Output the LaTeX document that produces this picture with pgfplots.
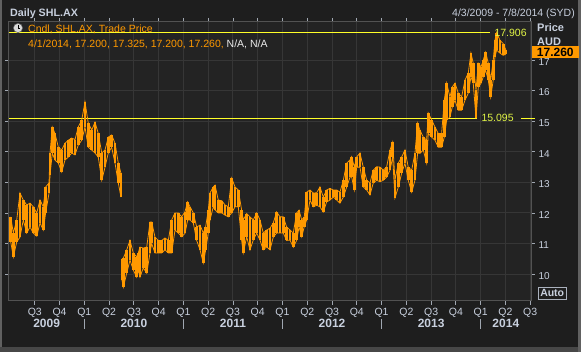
\documentclass[border=0pt]{standalone}
\usepackage{pgfplots}
\pgfplotsset{compat=1.18}
\usepackage{pgfplotstable}
\usepackage{fontspec}
\setmainfont{Liberation Sans}

\definecolor{bgout}{RGB}{30,30,30}
\definecolor{bgplot}{RGB}{35,35,35}
\definecolor{gridc}{RGB}{54,54,54}
\definecolor{framec}{RGB}{82,82,82}
\definecolor{candle}{RGB}{255,153,0}
\definecolor{txt}{RGB}{200,208,222}
\definecolor{yline}{RGB}{255,255,40}
\definecolor{ytext}{RGB}{225,245,70}

% daily candles before the April 2010 gap
\pgfplotstableread{
x lo hi
2009.257 11.06 11.87
2009.284 10.56 11.34
2009.318 11.05 11.77
2009.351 11.21 12.65
2009.384 11.77 12.42
2009.419 11.34 12.26
2009.452 11.54 12.32
2009.485 11.34 12.20
2009.520 11.24 12.00
2009.553 11.67 12.42
2009.586 11.44 12.20
2009.610 12.00 12.85
2009.644 12.65 12.98
2009.654 13.24 13.96
2009.677 13.96 14.81
2009.704 13.73 14.60
2009.738 13.63 14.15
2009.772 13.34 14.06
2009.805 13.73 14.28
2009.839 13.83 14.38
2009.873 13.96 14.45
2009.906 13.90 14.40
2009.939 14.22 14.81
2009.974 14.38 15.04
2010.007 14.81 15.63
2010.040 14.15 14.94
2010.075 14.06 14.71
2010.108 13.96 14.97
2010.141 13.83 14.60
2010.176 13.07 13.96
2010.209 13.50 14.06
2010.242 13.96 14.48
2010.276 14.15 14.55
2010.310 13.63 14.28
2010.343 12.98 13.63
2010.370 12.52 13.30
}\candlesA

% candles after the gap
\pgfplotstableread{
x lo hi
2010.380 9.80 10.50
2010.394 9.57 10.52
2010.428 10.03 10.79
2010.461 10.46 11.10
2010.494 10.13 10.69
2010.529 9.90 10.56
2010.545 10.13 10.69
2010.562 9.90 10.88
2010.595 10.20 10.85
2010.630 10.03 10.88
2010.663 10.69 11.70
2010.680 11.00 11.70
2010.713 10.69 11.21
2010.747 10.69 11.10
2010.781 10.69 11.10
2010.814 10.79 11.18
2010.848 10.69 11.10
2010.882 10.69 11.77
2010.915 11.44 12.00
2010.949 11.34 12.00
2010.983 11.22 11.87
2011.016 11.33 12.04
2011.043 11.77 12.36
2011.067 11.77 12.20
2011.100 11.67 12.00
2011.134 11.10 11.54
2011.168 10.79 11.60
2011.201 10.36 11.34
2011.225 10.79 11.55
2011.251 11.34 12.09
2011.268 11.77 12.65
2011.302 12.20 12.85
2011.319 12.10 12.91
2011.352 12.00 12.42
2011.387 12.00 12.40
2011.420 11.93 12.26
2011.453 11.87 12.20
2011.487 12.00 13.14
2011.521 12.20 12.85
2011.554 12.20 12.75
2011.588 11.10 12.09
2011.604 10.69 11.77
2011.639 11.22 11.98
2011.672 10.79 11.87
2011.705 11.11 11.77
2011.740 11.34 12.00
2011.773 11.11 11.77
2011.806 10.79 11.34
2011.841 10.89 11.44
2011.874 10.79 11.50
2011.907 11.21 11.67
2011.941 11.34 12.03
2011.975 11.34 11.87
2012.008 11.34 11.87
2012.042 11.10 11.54
2012.076 11.11 11.44
2012.109 10.88 11.34
2012.143 11.10 12.00
2012.167 11.54 12.09
2012.194 11.22 11.77
2012.220 11.55 11.87
2012.244 11.77 12.68
2012.278 12.42 12.75
2012.311 12.20 12.65
2012.345 12.25 12.66
2012.378 12.20 12.85
2012.412 12.03 12.52
2012.446 12.36 12.75
2012.479 12.42 12.80
2012.513 12.52 12.75
2012.547 12.42 12.75
2012.580 12.32 12.68
2012.614 12.52 13.07
2012.648 12.85 13.63
2012.681 13.17 13.73
2012.698 13.18 13.84
2012.725 12.75 13.50
2012.749 13.50 13.83
2012.782 13.50 13.96
2012.815 12.85 13.50
2012.850 12.75 13.07
2012.883 12.59 12.98
2012.916 12.98 13.40
2012.951 13.07 13.51
2012.984 13.02 13.50
2013.017 13.07 13.40
2013.051 13.17 13.50
2013.085 13.40 14.06
2013.112 13.83 14.32
2013.135 12.49 13.07
2013.169 12.85 13.63
2013.203 13.30 13.83
2013.236 13.63 14.06
2013.269 13.07 13.50
2013.304 12.68 13.40
2013.337 13.07 13.96
2013.364 13.96 14.94
2013.387 13.95 14.71
2013.421 14.06 14.48
2013.455 13.63 14.38
2013.471 14.60 15.27
2013.506 14.48 15.04
2013.539 14.38 14.81
2013.572 14.15 14.60
2013.606 14.15 14.60
2013.633 14.48 15.69
2013.657 15.04 16.25
2013.690 15.14 15.79
2013.713 15.46 16.12
2013.741 15.69 16.25
2013.774 15.36 15.92
2013.808 15.36 15.80
2013.842 15.69 16.35
2013.875 15.92 16.58
2013.902 16.45 17.23
2013.925 16.25 16.90
2013.953 15.095 16.02
2013.976 16.12 16.90
2014.003 16.24 16.78
2014.026 16.45 17.00
2014.050 16.67 17.26
2014.077 16.35 16.90
2014.101 15.79 16.35
2014.127 16.35 17.00
2014.144 17.10 17.65
2014.161 17.33 17.906
2014.195 17.23 17.65
2014.228 17.16 17.54
2014.255 17.20 17.325
}\candlesB

\begin{document}
\begin{tikzpicture}[font=\fontsize{10.5}{12}\selectfont]
\useasboundingbox (-9pt,-51pt) rectangle (572pt,301pt);
\fill[bgout] (-9pt,-51pt) rectangle (572pt,301pt);
\fill[black!62] (-9pt,-51pt) rectangle (-6.5pt,301pt);
\fill[black!72] (-9pt,-51pt) rectangle (572pt,-46pt);
\fill[black!62] (569pt,-51pt) rectangle (572pt,301pt);
\begin{axis}[
  at={(0,0)}, anchor=south west,
  scale only axis, width=522pt, height=279pt,
  xmin=2009.240, xmax=2014.508, ymin=9.117, ymax=18.25,
  clip=false,
  axis background/.style={fill=bgplot},
  axis line style={framec, line width=1pt},
  xtick={2009.5,2009.75,2010,2010.25,2010.5,2010.75,2011,2011.25,2011.5,2011.75,2012,2012.25,2012.5,2012.75,2013,2013.25,2013.5,2013.75,2014,2014.25,2014.5},
  xticklabels={Q3,Q4,Q1,Q2,Q3,Q4,Q1,Q2,Q3,Q4,Q1,Q2,Q3,Q4,Q1,Q2,Q3,Q4,Q1,Q2,Q3},
  ytick={10,11,12,13,14,15,16,17},
  yticklabel pos=right,
  /pgf/number format/assume math mode=true,
  grid=major,
  major grid style={gridc, line width=1pt},
  tick align=outside,
  major tick length=4pt,
  tick style={txt!80!black, line width=0.8pt},
  ticklabel style={txt},
  xticklabel style={font=\fontsize{10.5}{12}\selectfont},
  yticklabel style={font=\fontsize{10}{12}\selectfont, yshift=-1.8pt},
]
% reference lines
\addplot[yline, line width=1pt, forget plot] coordinates {(2009.240,17.906) (2014.094,17.906)};
\addplot[yline, line width=1pt, forget plot] coordinates {(2009.240,15.095) (2013.962,15.095)};
\addplot[yline, line width=1pt, forget plot] coordinates {(2014.404,15.095) (2014.548,15.095)};
% high / low envelope
\addplot[candle, line width=0.8pt, forget plot] table[x=x, y=hi] {\candlesA};
\addplot[candle, line width=0.8pt, forget plot] table[x=x, y=lo] {\candlesA};
\addplot[candle, line width=0.8pt, forget plot] table[x=x, y=hi] {\candlesB};
\addplot[candle, line width=0.8pt, forget plot] table[x=x, y=lo] {\candlesB};
% candle ranges: one bar from low to high
\addplot[draw=none, mark=none, forget plot,
  error bars/.cd, y dir=plus, y explicit, error mark=none,
  error bar style={draw=candle, solid, line width=2.7pt}]
  table[x=x, y=lo, y error plus expr={\thisrow{hi}-\thisrow{lo}}] {\candlesA};
\addplot[draw=none, mark=none, forget plot,
  error bars/.cd, y dir=plus, y explicit, error mark=none,
  error bar style={draw=candle, solid, line width=2.7pt}]
  table[x=x, y=lo, y error plus expr={\thisrow{hi}-\thisrow{lo}}] {\candlesB};

\node[anchor=west, ytext, inner sep=0pt] at (axis cs:2014.138,17.906) {17.906};
\node[anchor=west, ytext, inner sep=0pt] at (axis cs:2014.007,15.095) {15.095};

% year separators and labels
\draw[txt!80!black, line width=0.8pt] ([yshift=-18pt]axis cs:2010,9.117) -- ([yshift=-28pt]axis cs:2010,9.117);
\draw[txt!80!black, line width=0.8pt] ([yshift=-18pt]axis cs:2011,9.117) -- ([yshift=-28pt]axis cs:2011,9.117);
\draw[txt!80!black, line width=0.8pt] ([yshift=-18pt]axis cs:2012,9.117) -- ([yshift=-28pt]axis cs:2012,9.117);
\draw[txt!80!black, line width=0.8pt] ([yshift=-18pt]axis cs:2013,9.117) -- ([yshift=-28pt]axis cs:2013,9.117);
\draw[txt!80!black, line width=0.8pt] ([yshift=-18pt]axis cs:2014,9.117) -- ([yshift=-28pt]axis cs:2014,9.117);
\node[anchor=base, txt, font=\bfseries\fontsize{12}{14}\selectfont] at ([yshift=-26.5pt]axis cs:2009.620,9.117) {2009};
\node[anchor=base, txt, font=\bfseries\fontsize{12}{14}\selectfont] at ([yshift=-26.5pt]axis cs:2010.500,9.117) {2010};
\node[anchor=base, txt, font=\bfseries\fontsize{12}{14}\selectfont] at ([yshift=-26.5pt]axis cs:2011.500,9.117) {2011};
\node[anchor=base, txt, font=\bfseries\fontsize{12}{14}\selectfont] at ([yshift=-26.5pt]axis cs:2012.500,9.117) {2012};
\node[anchor=base, txt, font=\bfseries\fontsize{12}{14}\selectfont] at ([yshift=-26.5pt]axis cs:2013.500,9.117) {2013};
\node[anchor=base, txt, font=\bfseries\fontsize{12}{14}\selectfont] at ([yshift=-26.5pt]axis cs:2014.254,9.117) {2014};
\end{axis}

% header texts
\node[anchor=base west, txt, inner sep=0pt, font=\bfseries\fontsize{10.7}{12}\selectfont] at (1pt,284pt) {Daily SHL.AX};
\node[anchor=base east, txt, inner sep=0pt] at (566pt,284pt) {4/3/2009 - 7/8/2014 (SYD)};
% clock icon
\fill[black!15] (9pt,273pt) circle (4.6pt);
\draw[black!60, line width=0.5pt] (9pt,273pt) circle (4.6pt);
\draw[black, line width=0.9pt] (9pt,276pt) -- (9pt,273pt) -- (11.5pt,273pt);
\node[anchor=base west, candle, inner sep=0pt] at (19pt,268pt) {Cndl, SHL.AX, Trade Price};
\node[anchor=base west, inner sep=0pt] at (19pt,253.7pt) {\textcolor{candle}{4/1/2014, 17.200, 17.325, 17.200, 17.260,} \textcolor{white!92!black}{N/A, N/A}};
% price panel
\node[anchor=base west, txt, inner sep=0pt, font=\bfseries\fontsize{11}{12}\selectfont] at (528pt,269.3pt) {Price};
\node[anchor=base west, txt, inner sep=0pt, font=\bfseries\fontsize{11}{12}\selectfont] at (528pt,255.5pt) {AUD};
\fill[candle] (522.7pt,242.6pt) rectangle (570pt,254.6pt);
\node[black, font=\bfseries\fontsize{12}{13}\selectfont, inner sep=0pt] at (546.3pt,248.6pt) {17.260};
\draw[txt!85!black, line width=0.8pt, fill=bgout] (529.3pt,2pt) rectangle (557pt,13.3pt);
\node[txt, font=\bfseries\fontsize{10.5}{12}\selectfont, inner sep=0pt] at (543.2pt,7.6pt) {Auto};
\end{tikzpicture}
\end{document}
